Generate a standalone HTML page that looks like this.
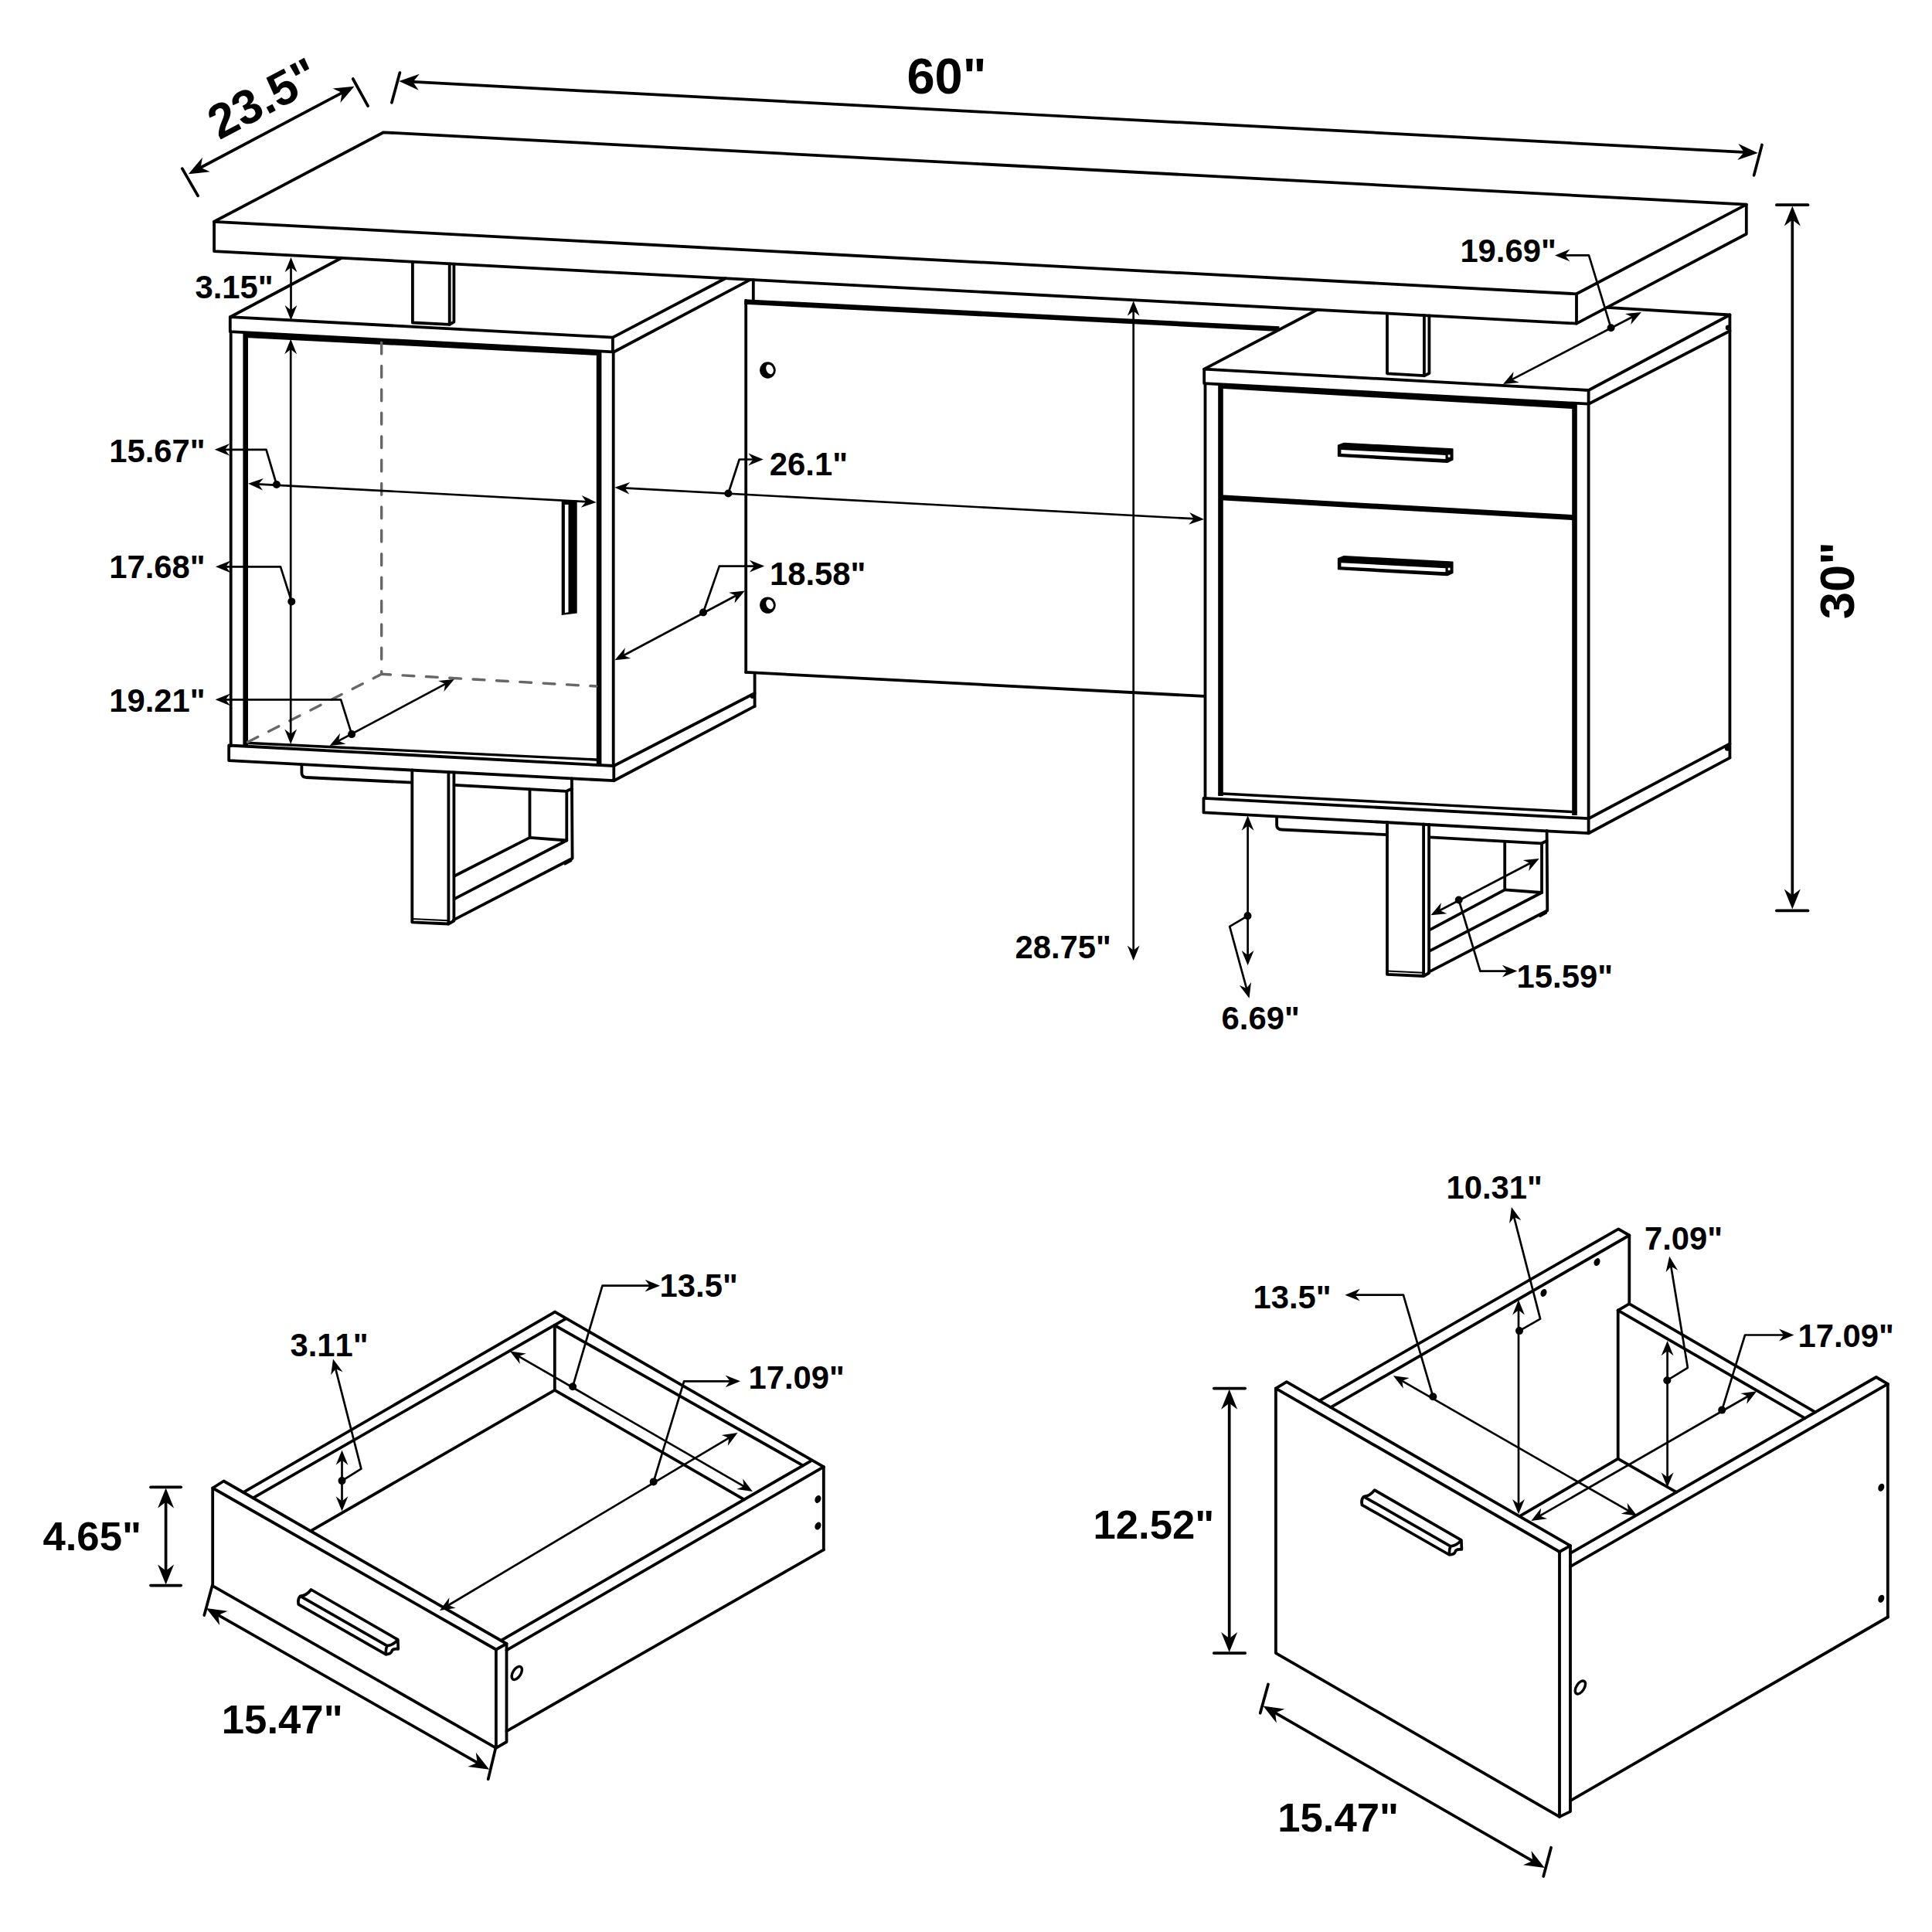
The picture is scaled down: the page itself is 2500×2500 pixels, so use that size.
<!DOCTYPE html>
<html lang="en">
<head>
<meta charset="utf-8">
<title>Desk dimensions</title>
<style>
html,body{margin:0;padding:0;background:#fff;}
body{width:2500px;height:2500px;overflow:hidden;}
svg{display:block;}
text{font-family:"Liberation Sans",sans-serif;font-weight:700;fill:#000;font-kerning:none;}
</style>
</head>
<body>
<svg width="2500" height="2500" viewBox="0 0 2500 2500" stroke-linecap="butt">
<rect x="0" y="0" width="2500" height="2500" fill="#fff"/>
<path d="M496.3,171.3 L2259.8,264.6 L2040,380.3 L277.1,286.8 Z" fill="none" stroke="#000" stroke-width="3.8" stroke-linejoin="round" stroke-linecap="round"/>
<path d="M277.1,286.8 L277.1,325.1 L2040,418.6 L2040,380.3" fill="none" stroke="#000" stroke-width="3.8" stroke-linejoin="round" stroke-linecap="round"/>
<path d="M2040,418.6 L2259.8,302.7 L2259.8,264.6" fill="none" stroke="#000" stroke-width="3.8" stroke-linejoin="round" stroke-linecap="round"/>
<path d="M533.9,338.7 L533.9,417.5 L581.7,419.8 L581.7,341.3" fill="none" stroke="#000" stroke-width="3.8" stroke-linejoin="round" stroke-linecap="round"/>
<path d="M581.7,419.8 L587.4,416.6 L587.4,341.6" fill="none" stroke="#000" stroke-width="3.8" stroke-linejoin="round" stroke-linecap="round"/>
<path d="M1795,405.6 L1795,483.3 L1842.9,486.2 L1842.9,408.1" fill="none" stroke="#000" stroke-width="3.8" stroke-linejoin="round" stroke-linecap="round"/>
<path d="M1842.9,486.2 L1849.4,483 L1849.4,408.5" fill="none" stroke="#000" stroke-width="3.8" stroke-linejoin="round" stroke-linecap="round"/>
<path d="M297.8,410.2 L792.9,436.6 L792.9,455.3 L297.8,429.1 Z" fill="none" stroke="#000" stroke-width="3.8" stroke-linejoin="round" stroke-linecap="round"/>
<line x1="297.8" y1="410.2" x2="442" y2="333.8" stroke="#000" stroke-width="3.8" stroke-linecap="round"/>
<line x1="792.9" y1="436.6" x2="938.6" y2="360.2" stroke="#000" stroke-width="3.8" stroke-linecap="round"/>
<line x1="794.6" y1="455.3" x2="970.9" y2="361.9" stroke="#000" stroke-width="3.8" stroke-linecap="round"/>
<line x1="974.8" y1="362.1" x2="974.8" y2="389.5" stroke="#000" stroke-width="3.8" stroke-linecap="round"/>
<line x1="298.7" y1="429.1" x2="298.7" y2="965" stroke="#000" stroke-width="3.8" stroke-linecap="round"/>
<line x1="793.7" y1="455.3" x2="793.7" y2="991" stroke="#000" stroke-width="3.8" stroke-linecap="round"/>
<path d="M296.2,964.5 L794.3,991 L794.3,1010.2 L296.2,984.2 Z" fill="none" stroke="#000" stroke-width="3.8" stroke-linejoin="round" stroke-linecap="round"/>
<line x1="794.3" y1="991" x2="976.6" y2="897" stroke="#000" stroke-width="3.8" stroke-linecap="round"/>
<line x1="794.3" y1="1010.2" x2="976.6" y2="913.9" stroke="#000" stroke-width="3.8" stroke-linecap="round"/>
<line x1="976.6" y1="871.5" x2="976.6" y2="913.9" stroke="#000" stroke-width="3.8" stroke-linecap="round"/>
<path d="M317.7,964 L317.7,433.6 L775.1,456.8 L775.1,990.5" fill="none" stroke="#000" stroke-width="6.6" stroke-linejoin="miter" stroke-linecap="butt"/>
<line x1="317.7" y1="961.3" x2="775.1" y2="983.2" stroke="#000" stroke-width="3.4" stroke-linecap="round"/>
<line x1="493.7" y1="443.1" x2="493.7" y2="872.3" stroke="#676767" stroke-width="3.4" stroke-dasharray="14.8 15.6" stroke-linecap="round"/>
<line x1="493.7" y1="872.3" x2="771.7" y2="888" stroke="#676767" stroke-width="3.4" stroke-dasharray="14.8 15.6" stroke-linecap="round" stroke-dashoffset="3"/>
<line x1="493.7" y1="872.3" x2="320" y2="960.5" stroke="#676767" stroke-width="3.4" stroke-dasharray="14.8 15.6" stroke-linecap="round" stroke-dashoffset="3"/>
<path d="M726.7,647.4 L746.7,647.4 L746.7,793.5 L726.7,796 Z" fill="#000"/>
<path d="M730.9,653.1 L735.5,653.1 L735.5,792.2 L730.9,792.9 Z" fill="#fff"/>
<line x1="965.2" y1="389" x2="965.2" y2="869.9" stroke="#000" stroke-width="3.8" stroke-linecap="round"/>
<line x1="963.4" y1="390.5" x2="1655.3" y2="425.6" stroke="#000" stroke-width="6.6" />
<line x1="965.2" y1="869.9" x2="1558" y2="900.9" stroke="#000" stroke-width="3.8" stroke-linecap="round"/>
<ellipse cx="993.4" cy="479" rx="10.4" ry="10.7" fill="#000"/>
<ellipse cx="996" cy="477.9" rx="4.5" ry="6.5" fill="#fff" transform="rotate(-22 996 477.9)"/>
<ellipse cx="993.4" cy="783.1" rx="10.4" ry="10.7" fill="#000"/>
<ellipse cx="996" cy="782" rx="4.5" ry="6.5" fill="#fff" transform="rotate(-22 996 782)"/>
<path d="M1558.2,477.6 L2055.6,505 L2055.6,522.7 L1558.2,496.2 Z" fill="none" stroke="#000" stroke-width="3.8" stroke-linejoin="round" stroke-linecap="round"/>
<line x1="1558.2" y1="477.6" x2="1704.5" y2="400.8" stroke="#000" stroke-width="3.8" stroke-linecap="round"/>
<line x1="2055.6" y1="505" x2="2238.4" y2="407.5" stroke="#000" stroke-width="3.8" stroke-linecap="round"/>
<line x1="2055.6" y1="522.7" x2="2238.4" y2="428.2" stroke="#000" stroke-width="3.8" stroke-linecap="round"/>
<line x1="2238.4" y1="407.5" x2="2238.4" y2="980.6" stroke="#000" stroke-width="3.8" stroke-linecap="round"/>
<line x1="2079.4" y1="397.8" x2="2238.4" y2="407.5" stroke="#000" stroke-width="3.8" stroke-linecap="round"/>
<line x1="1559.5" y1="496.2" x2="1559.5" y2="1032.8" stroke="#000" stroke-width="3.8" stroke-linecap="round"/>
<line x1="2055.6" y1="522.7" x2="2055.6" y2="1059.2" stroke="#000" stroke-width="3.8" stroke-linecap="round"/>
<path d="M1557.5,1032.8 L2055.6,1059.2 L2055.6,1078.2 L1557.5,1051.4 Z" fill="none" stroke="#000" stroke-width="3.8" stroke-linejoin="round" stroke-linecap="round"/>
<line x1="2055.6" y1="1059.2" x2="2238.4" y2="962.4" stroke="#000" stroke-width="3.8" stroke-linecap="round"/>
<line x1="2055.6" y1="1078.2" x2="2238.4" y2="980.6" stroke="#000" stroke-width="3.8" stroke-linecap="round"/>
<circle cx="2236.3" cy="424" r="3.6" fill="#000"/>
<circle cx="2235.2" cy="968.3" r="3.4" fill="#000"/>
<circle cx="973.7" cy="900.9" r="3" fill="#000"/>
<path d="M1579.5,1030 L1579.5,499.5 L2037.5,526 L2037.5,1055" fill="none" stroke="#000" stroke-width="6.6" stroke-linejoin="miter" stroke-linecap="butt"/>
<line x1="1579.5" y1="643.8" x2="2037.5" y2="669.8" stroke="#000" stroke-width="7" />
<line x1="1578" y1="1026.8" x2="2039" y2="1050.7" stroke="#000" stroke-width="3.4" stroke-linecap="round"/>
<polygon points="1731.6,576.3 1739.1,573.5 1879.8,581 1879.8,594.9 1872.8,598.2 1731.6,590.3" fill="#000" stroke="#000" stroke-width="1.5" stroke-linejoin="round"/>
<polygon points="1735.4,581.9 1870.5,588.9 1870.5,594 1735.4,587" fill="#fff"/>
<rect x="1873.7" y="588.4" width="2.8" height="3.3" fill="#fff"/>
<polygon points="1731.6,722.6 1739.1,719.8 1879.8,727.3 1879.8,741.2 1872.8,744.5 1731.6,736.6" fill="#000" stroke="#000" stroke-width="1.5" stroke-linejoin="round"/>
<polygon points="1735.4,728.2 1870.5,735.2 1870.5,740.3 1735.4,733.3" fill="#fff"/>
<rect x="1873.7" y="734.7" width="2.8" height="3.3" fill="#fff"/>
<path d="M533.3,996.5 L533.3,1193.3 L580.4,1195.5 L580.4,999" fill="none" stroke="#000" stroke-width="3.8" stroke-linejoin="round" stroke-linecap="round"/>
<line x1="533.3" y1="1189" x2="580.4" y2="1191.2" stroke="#000" stroke-width="2"/>
<path d="M580.4,1195.5 L587.4,1191.5 L587.4,999.3" fill="none" stroke="#000" stroke-width="3.8" stroke-linejoin="round" stroke-linecap="round"/>
<path d="M390.4,988.5 L390.4,1000 Q390.4,1005.6 396.5,1006 L533.3,1012.6" fill="none" stroke="#000" stroke-width="3.8"/>
<path d="M739.9,1007.5 L740.6,1110.7 L587,1190.4" fill="none" stroke="#000" stroke-width="3.8" stroke-linejoin="round" stroke-linecap="round"/>
<path d="M588.4,1015.8 L733.3,1023.8 L739.9,1020.5" fill="none" stroke="#000" stroke-width="3.8" stroke-linejoin="round" stroke-linecap="round"/>
<path d="M685.5,1021.4 L685.5,1083.9 L588.6,1133.2" fill="none" stroke="#000" stroke-width="3.8" stroke-linejoin="round" stroke-linecap="round"/>
<path d="M685.5,1083.9 L733.3,1087.5 L588.6,1162.9" fill="none" stroke="#000" stroke-width="3.8" stroke-linejoin="round" stroke-linecap="round"/>
<line x1="733.3" y1="1023.8" x2="733.3" y2="1087.5" stroke="#000" stroke-width="3.8" stroke-linecap="round"/>
<path d="M730.5,1115.5 L731,1118.5 L739.3,1114 L739.3,1111.5" fill="none" stroke="#000" stroke-width="2.2" stroke-linejoin="round" stroke-linecap="butt"/>
<path d="M1795,1064 L1795,1260.8 L1842.1,1263 L1842.1,1066.5" fill="none" stroke="#000" stroke-width="3.8" stroke-linejoin="round" stroke-linecap="round"/>
<line x1="1795" y1="1256.5" x2="1842.1" y2="1258.7" stroke="#000" stroke-width="2"/>
<path d="M1842.1,1263 L1849.1,1259 L1849.1,1066.8" fill="none" stroke="#000" stroke-width="3.8" stroke-linejoin="round" stroke-linecap="round"/>
<path d="M1652.1,1056 L1652.1,1067.5 Q1652.1,1073.1 1658.2,1073.5 L1795,1080.1" fill="none" stroke="#000" stroke-width="3.8"/>
<path d="M2001.6,1075 L2002.3,1178.2 L1848.7,1257.9" fill="none" stroke="#000" stroke-width="3.8" stroke-linejoin="round" stroke-linecap="round"/>
<path d="M1850.1,1083.3 L1995,1091.3 L2001.6,1088" fill="none" stroke="#000" stroke-width="3.8" stroke-linejoin="round" stroke-linecap="round"/>
<path d="M1947.2,1088.9 L1947.2,1151.4 L1850.3,1203.1" fill="none" stroke="#000" stroke-width="3.8" stroke-linejoin="round" stroke-linecap="round"/>
<path d="M1947.2,1151.4 L1995,1155 L1850.3,1230.4" fill="none" stroke="#000" stroke-width="3.8" stroke-linejoin="round" stroke-linecap="round"/>
<line x1="1995" y1="1091.3" x2="1995" y2="1155" stroke="#000" stroke-width="3.8" stroke-linecap="round"/>
<path d="M1992.2,1183 L1992.7,1186 L2001,1181.5 L2001,1179" fill="none" stroke="#000" stroke-width="2.2" stroke-linejoin="round" stroke-linecap="butt"/>
<polygon points="516.3,104.9 542.8,95.8 534.3,105.9 541.7,116.8" fill="#000"/>
<polygon points="2274.8,197.9 2248.3,207 2256.8,196.9 2249.4,186" fill="#000"/>
<line x1="530.7" y1="105.7" x2="2260.4" y2="197.1" stroke="#000" stroke-width="3.7" stroke-linecap="round"/>
<line x1="517.4" y1="94.1" x2="506.9" y2="132.8" stroke="#000" stroke-width="3.7" stroke-linecap="round"/>
<line x1="2280" y1="187.5" x2="2269.6" y2="226.9" stroke="#000" stroke-width="3.7" stroke-linecap="round"/>
<text x="1173.4" y="121.3" font-size="65" text-anchor="start">60"</text>
<polygon points="243.8,225.2 261.9,203.8 259.7,216.8 271.7,222.3" fill="#000"/>
<polygon points="458.5,111.7 440.4,133.1 442.6,120.1 430.6,114.6" fill="#000"/>
<line x1="256.5" y1="218.5" x2="445.8" y2="118.4" stroke="#000" stroke-width="3.7" stroke-linecap="round"/>
<line x1="235.8" y1="218.2" x2="256.1" y2="253.4" stroke="#000" stroke-width="3.7" stroke-linecap="round"/>
<line x1="456.7" y1="102" x2="476.1" y2="137.2" stroke="#000" stroke-width="3.7" stroke-linecap="round"/>
<text x="283.8" y="181.6" font-size="62.5" text-anchor="start" transform="rotate(-27.9 283.8 181.6)">23.5"</text>
<polygon points="2319.3,266.5 2329.8,292.5 2319.3,284.5 2308.8,292.5" fill="#000"/>
<polygon points="2319.3,1176.6 2308.8,1150.6 2319.3,1158.6 2329.8,1150.6" fill="#000"/>
<line x1="2319.3" y1="280.9" x2="2319.3" y2="1162.2" stroke="#000" stroke-width="3.7" stroke-linecap="round"/>
<line x1="2298.9" y1="265.2" x2="2339.5" y2="265.2" stroke="#000" stroke-width="3.7" stroke-linecap="round"/>
<line x1="2298.9" y1="1178.4" x2="2339.5" y2="1178.4" stroke="#000" stroke-width="3.7" stroke-linecap="round"/>
<text x="2399.4" y="801.3" font-size="63.3" text-anchor="start" transform="rotate(-90 2399.4 801.3)">30"</text>
<polygon points="376.5,332.9 384.4,352.3 376.5,346.1 368.6,352.3" fill="#000"/>
<polygon points="376.5,414.4 368.6,395 376.5,401.2 384.4,395" fill="#000"/>
<line x1="376.5" y1="343.5" x2="376.5" y2="403.8" stroke="#000" stroke-width="2.7"/>
<text x="252.5" y="385.7" font-size="41.8" text-anchor="start">3.15"</text>
<polygon points="376.2,438.8 384.1,458.2 376.2,452 368.3,458.2" fill="#000"/>
<polygon points="376.2,963 368.3,943.6 376.2,949.8 384.1,943.6" fill="#000"/>
<line x1="376.2" y1="449.4" x2="376.2" y2="952.4" stroke="#000" stroke-width="2.7"/>
<polygon points="279,733.3 298.4,725.4 292.2,733.3 298.4,741.2" fill="#000"/>
<path d="M377.3,778.4 L363,733.3 L289.6,733.3" fill="none" stroke="#000" stroke-width="2.7" stroke-linejoin="round" stroke-linecap="butt"/>
<circle cx="377.3" cy="778.4" r="5" fill="#000"/>
<text x="141.2" y="748" font-size="41.8" text-anchor="start">17.68"</text>
<polygon points="321.1,625.7 340.9,618.9 334.3,626.4 340,634.6" fill="#000"/>
<polygon points="771.6,649.9 751.8,656.7 758.4,649.2 752.7,641" fill="#000"/>
<line x1="331.6" y1="626.3" x2="761.1" y2="649.3" stroke="#000" stroke-width="2.7"/>
<polygon points="277.8,581.8 297.2,573.9 291,581.8 297.2,589.7" fill="#000"/>
<path d="M357.9,627 L344.5,581.8 L288.4,581.8" fill="none" stroke="#000" stroke-width="2.7" stroke-linejoin="round" stroke-linecap="butt"/>
<circle cx="357.9" cy="627" r="5" fill="#000"/>
<text x="141.2" y="598" font-size="41.8" text-anchor="start">15.67"</text>
<polygon points="426.6,964.9 440,948.8 438.2,958.7 447.4,962.7" fill="#000"/>
<polygon points="587.8,878.9 574.4,895 576.2,885.1 567,881.1" fill="#000"/>
<line x1="435.9" y1="959.9" x2="578.5" y2="883.9" stroke="#000" stroke-width="2.7"/>
<polygon points="278.6,905.3 298,897.4 291.8,905.3 298,913.2" fill="#000"/>
<path d="M455.1,950.1 L441.1,905.3 L289.2,905.3" fill="none" stroke="#000" stroke-width="2.7" stroke-linejoin="round" stroke-linecap="butt"/>
<circle cx="455.1" cy="950.1" r="5" fill="#000"/>
<text x="141.2" y="921" font-size="41.8" text-anchor="start">19.21"</text>
<polygon points="795.4,630.7 815.2,623.9 808.6,631.4 814.3,639.6" fill="#000"/>
<polygon points="1558,672 1538.2,678.8 1544.8,671.3 1539.1,663.1" fill="#000"/>
<line x1="805.9" y1="631.3" x2="1547.5" y2="671.4" stroke="#000" stroke-width="2.7"/>
<polygon points="987.7,594.5 968.3,602.4 974.5,594.5 968.3,586.6" fill="#000"/>
<path d="M942.4,638.5 L956.7,594.5 L977.1,594.5" fill="none" stroke="#000" stroke-width="2.7" stroke-linejoin="round" stroke-linecap="butt"/>
<circle cx="942.4" cy="638.5" r="5" fill="#000"/>
<text x="995.8" y="614.7" font-size="41.8" text-anchor="start">26.1"</text>
<polygon points="795.5,854.3 808.9,838.2 807.1,848.1 816.3,852.1" fill="#000"/>
<polygon points="963.9,764.5 950.5,780.6 952.3,770.7 943.1,766.7" fill="#000"/>
<line x1="804.8" y1="849.3" x2="954.6" y2="769.5" stroke="#000" stroke-width="2.7"/>
<polygon points="989.3,732.6 969.9,740.5 976.1,732.6 969.9,724.7" fill="#000"/>
<path d="M910,792.5 L930.8,732.6 L978.7,732.6" fill="none" stroke="#000" stroke-width="2.7" stroke-linejoin="round" stroke-linecap="butt"/>
<circle cx="910" cy="792.5" r="5" fill="#000"/>
<text x="995.9" y="756.5" font-size="41.8" text-anchor="start">18.58"</text>
<polygon points="1466.7,389.3 1474.6,408.7 1466.7,402.5 1458.8,408.7" fill="#000"/>
<polygon points="1466.7,1243 1458.8,1223.6 1466.7,1229.8 1474.6,1223.6" fill="#000"/>
<line x1="1466.7" y1="399.9" x2="1466.7" y2="1232.4" stroke="#000" stroke-width="2.7"/>
<text x="1313.5" y="1240.2" font-size="41.8" text-anchor="start">28.75"</text>
<polygon points="1945,497 1958.6,481 1956.7,490.9 1965.9,495.1" fill="#000"/>
<polygon points="2123.9,404.1 2110.3,420.1 2112.2,410.2 2103,406" fill="#000"/>
<line x1="1954.4" y1="492.1" x2="2114.5" y2="409" stroke="#000" stroke-width="2.7"/>
<polygon points="2012,330.4 2031.4,322.5 2025.2,330.4 2031.4,338.3" fill="#000"/>
<path d="M2084.6,424.3 L2056,330.4 L2022.6,330.4" fill="none" stroke="#000" stroke-width="2.7" stroke-linejoin="round" stroke-linecap="butt"/>
<circle cx="2084.6" cy="424.3" r="5" fill="#000"/>
<text x="2013.8" y="338.8" font-size="41.8" text-anchor="end">19.69"</text>
<polygon points="1614.6,1055.3 1622.5,1074.7 1614.6,1068.5 1606.7,1074.7" fill="#000"/>
<polygon points="1614.6,1249.3 1606.7,1229.9 1614.6,1236.1 1622.5,1229.9" fill="#000"/>
<line x1="1614.6" y1="1065.9" x2="1614.6" y2="1238.7" stroke="#000" stroke-width="2.7"/>
<polygon points="1616.5,1291.7 1603.8,1275.1 1613,1279 1619,1270.9" fill="#000"/>
<path d="M1614.5,1185.1 L1591.2,1198.8 L1613.7,1281.5" fill="none" stroke="#000" stroke-width="2.7" stroke-linejoin="round" stroke-linecap="butt"/>
<circle cx="1614.5" cy="1185.1" r="5" fill="#000"/>
<text x="1580.6" y="1332.4" font-size="41.8" text-anchor="start">6.69"</text>
<polygon points="1851.4,1184.2 1864.9,1168.2 1863.1,1178.1 1872.3,1182.2" fill="#000"/>
<polygon points="1991.7,1110.9 1978.2,1126.9 1980,1117 1970.8,1112.9" fill="#000"/>
<line x1="1860.8" y1="1179.3" x2="1982.3" y2="1115.8" stroke="#000" stroke-width="2.7"/>
<polygon points="1963.3,1256.6 1943.9,1264.5 1950.1,1256.6 1943.9,1248.7" fill="#000"/>
<path d="M1887.7,1164.5 L1915.4,1256.6 L1952.7,1256.6" fill="none" stroke="#000" stroke-width="2.7" stroke-linejoin="round" stroke-linecap="butt"/>
<circle cx="1887.7" cy="1164.5" r="5" fill="#000"/>
<text x="1962.6" y="1277.8" font-size="41.8" text-anchor="start">15.59"</text>
<path d="M275.2,1925.5 L641.9,2134.5 L641.9,2261.8 L275.2,2052.2 Z" fill="none" stroke="#000" stroke-width="3.8" stroke-linejoin="round" stroke-linecap="round"/>
<path d="M275.2,1925.5 L289.5,1916.5 L655.5,2127 L641.9,2134.5" fill="none" stroke="#000" stroke-width="3.8" stroke-linejoin="round" stroke-linecap="round"/>
<path d="M655.5,2127 L655.5,2254 L641.9,2261.8" fill="none" stroke="#000" stroke-width="3.8" stroke-linejoin="round" stroke-linecap="round"/>
<line x1="314.8" y1="1931.1" x2="718.1" y2="1697.7" stroke="#000" stroke-width="3.8" stroke-linecap="round"/>
<line x1="327.4" y1="1938.3" x2="731.8" y2="1706.6" stroke="#000" stroke-width="3.8" stroke-linecap="round"/>
<line x1="401.9" y1="1981.1" x2="717.8" y2="1798.8" stroke="#000" stroke-width="3.8" stroke-linecap="round"/>
<line x1="718.1" y1="1697.7" x2="1065.8" y2="1898.2" stroke="#000" stroke-width="3.8" stroke-linecap="round"/>
<line x1="717.8" y1="1715" x2="1039" y2="1896.4" stroke="#000" stroke-width="3.8" stroke-linecap="round"/>
<line x1="717.8" y1="1715" x2="717.8" y2="1798.8" stroke="#000" stroke-width="3.8" stroke-linecap="round"/>
<line x1="717.8" y1="1798.8" x2="962.9" y2="1940.4" stroke="#000" stroke-width="3.8" stroke-linecap="round"/>
<line x1="1048.6" y1="1890.8" x2="648.2" y2="2122.8" stroke="#000" stroke-width="3.8" stroke-linecap="round"/>
<line x1="1065.8" y1="1898.2" x2="655.5" y2="2135.4" stroke="#000" stroke-width="3.8" stroke-linecap="round"/>
<line x1="1065.8" y1="1898.2" x2="1065.8" y2="2005.4" stroke="#000" stroke-width="3.8" stroke-linecap="round"/>
<line x1="1065.8" y1="2005.4" x2="655.5" y2="2240.1" stroke="#000" stroke-width="3.8" stroke-linecap="round"/>
<ellipse cx="668.8" cy="2164.9" rx="5.1" ry="9.5" fill="none" stroke="#000" stroke-width="3.4" transform="rotate(32 668.8 2164.9)"/>
<ellipse cx="1058.4" cy="1939.9" rx="3.8" ry="5.2" fill="#000" transform="rotate(24 1058.4 1939.9)"/>
<ellipse cx="1058.4" cy="1974.6" rx="3.8" ry="5.2" fill="#000" transform="rotate(24 1058.4 1974.6)"/>
<path d="M402.6,2057 L514.8,2121.7 L515.3,2133.8 Q507.9,2132.8 506.9,2136.8 Q505.9,2140.3 499.5,2140.8 L386.3,2076.1 Q384.9,2068.8 388.6,2065.4 Q396.4,2065 402.6,2057 Z" fill="none" stroke="#000" stroke-width="3.7" stroke-linejoin="round"/>
<path d="M388.6,2065.4 L500.9,2129.6 Q509.4,2128.8 514.8,2121.7 M500.9,2129.6 Q498.7,2134.8 499.5,2140.8" fill="none" stroke="#000" stroke-width="3.7" stroke-linejoin="round"/>
<polygon points="214.6,1925.5 225.1,1951.5 214.6,1943.5 204.1,1951.5" fill="#000"/>
<polygon points="214.6,2050.5 204.1,2024.5 214.6,2032.5 225.1,2024.5" fill="#000"/>
<line x1="214.6" y1="1939.9" x2="214.6" y2="2036.1" stroke="#000" stroke-width="3.7" stroke-linecap="round"/>
<line x1="195" y1="1924.3" x2="234.2" y2="1924.3" stroke="#000" stroke-width="3.7" stroke-linecap="round"/>
<line x1="195" y1="2051.6" x2="234.2" y2="2051.6" stroke="#000" stroke-width="3.7" stroke-linecap="round"/>
<text x="55.4" y="2006.3" font-size="52.7" text-anchor="start">4.65"</text>
<polygon points="266.8,2081.1 294.6,2084.8 282.4,2090 284.2,2103.1" fill="#000"/>
<polygon points="633.2,2289.8 605.4,2286.1 617.6,2280.9 615.8,2267.8" fill="#000"/>
<line x1="279.3" y1="2088.2" x2="620.7" y2="2282.7" stroke="#000" stroke-width="3.7" stroke-linecap="round"/>
<line x1="274.5" y1="2052.2" x2="264.3" y2="2090.1" stroke="#000" stroke-width="3.7" stroke-linecap="round"/>
<line x1="641" y1="2263.4" x2="631.7" y2="2302.2" stroke="#000" stroke-width="3.7" stroke-linecap="round"/>
<text x="286.8" y="2242.9" font-size="52.7" text-anchor="start">15.47"</text>
<polygon points="442.5,1876.4 450.4,1895.8 442.5,1889.6 434.6,1895.8" fill="#000"/>
<polygon points="442.5,1955.6 434.6,1936.2 442.5,1942.4 450.4,1936.2" fill="#000"/>
<line x1="442.5" y1="1887" x2="442.5" y2="1945" stroke="#000" stroke-width="2.7"/>
<polygon points="431,1758.4 443.5,1775.2 434.3,1771.2 428.2,1779.2" fill="#000"/>
<path d="M442.5,1916.1 L467.4,1900.6 L433.6,1768.6" fill="none" stroke="#000" stroke-width="2.7" stroke-linejoin="round" stroke-linecap="butt"/>
<circle cx="442.5" cy="1916.1" r="5" fill="#000"/>
<text x="375.5" y="1755.3" font-size="41.8" text-anchor="start">3.11"</text>
<polygon points="660,1748.5 680.8,1751.4 671.4,1755.1 672.8,1765" fill="#000"/>
<polygon points="974,1929.9 953.2,1927 962.6,1923.3 961.2,1913.4" fill="#000"/>
<line x1="669.1" y1="1753.8" x2="964.9" y2="1924.6" stroke="#000" stroke-width="2.7"/>
<polygon points="854,1663.7 834.6,1671.6 840.8,1663.7 834.6,1655.8" fill="#000"/>
<path d="M741.1,1794.2 L779.5,1663.7 L843.4,1663.7" fill="none" stroke="#000" stroke-width="2.7" stroke-linejoin="round" stroke-linecap="butt"/>
<circle cx="741.1" cy="1794.2" r="5" fill="#000"/>
<text x="853.6" y="1677.6" font-size="41.8" text-anchor="start">13.5"</text>
<polygon points="568.9,2083.9 581.5,2067.2 580.2,2077.1 589.6,2080.8" fill="#000"/>
<polygon points="954.5,1854 941.9,1870.7 943.2,1860.8 933.8,1857.1" fill="#000"/>
<line x1="578" y1="2078.5" x2="945.4" y2="1859.4" stroke="#000" stroke-width="2.7"/>
<polygon points="958,1787.3 938.6,1795.2 944.8,1787.3 938.6,1779.4" fill="#000"/>
<path d="M845.7,1917.4 L885.1,1787.3 L947.4,1787.3" fill="none" stroke="#000" stroke-width="2.7" stroke-linejoin="round" stroke-linecap="butt"/>
<circle cx="845.7" cy="1917.4" r="5" fill="#000"/>
<text x="968.5" y="1797.2" font-size="41.8" text-anchor="start">17.09"</text>
<path d="M1650.9,1796.6 L2018,2008 L2018,2350.9 L1650.9,2139.1 Z" fill="none" stroke="#000" stroke-width="3.8" stroke-linejoin="round" stroke-linecap="round"/>
<path d="M1650.9,1796.6 L1664.9,1788.2 L2032,2000.1 L2018,2008" fill="none" stroke="#000" stroke-width="3.8" stroke-linejoin="round" stroke-linecap="round"/>
<path d="M2032,2000.1 L2032,2344.1 L2018,2350.9" fill="none" stroke="#000" stroke-width="3.8" stroke-linejoin="round" stroke-linecap="round"/>
<path d="M1707.2,1812.6 L2094.2,1590.3 L2108.3,1598.5 L1721.9,1821.1" fill="none" stroke="#000" stroke-width="3.8" stroke-linejoin="round" stroke-linecap="round"/>
<line x1="2108.3" y1="1598.5" x2="2108.3" y2="1687.2" stroke="#000" stroke-width="3.8" stroke-linecap="round"/>
<line x1="2093.7" y1="1695.6" x2="2108.3" y2="1687.2" stroke="#000" stroke-width="3.8" stroke-linecap="round"/>
<line x1="2093.7" y1="1695.6" x2="2093.7" y2="1887.6" stroke="#000" stroke-width="3.8" stroke-linecap="round"/>
<line x1="2093.7" y1="1695.6" x2="2335.5" y2="1835.2" stroke="#000" stroke-width="3.8" stroke-linecap="round"/>
<line x1="2108.3" y1="1687.2" x2="2349.1" y2="1827.3" stroke="#000" stroke-width="3.8" stroke-linecap="round"/>
<line x1="2093.7" y1="1887.6" x2="2169.3" y2="1930.9" stroke="#000" stroke-width="3.8" stroke-linecap="round"/>
<line x1="2093.7" y1="1887.6" x2="1966.2" y2="1962.1" stroke="#000" stroke-width="3.8" stroke-linecap="round"/>
<path d="M2032,2009.9 L2427.8,1782 L2442.8,1790.8 L2032,2027.1" fill="none" stroke="#000" stroke-width="3.8" stroke-linejoin="round" stroke-linecap="round"/>
<line x1="2442.8" y1="1790.8" x2="2442.8" y2="2092.5" stroke="#000" stroke-width="3.8" stroke-linecap="round"/>
<line x1="2442.8" y1="2092.5" x2="2032" y2="2330.1" stroke="#000" stroke-width="3.8" stroke-linecap="round"/>
<ellipse cx="2044.9" cy="2183.5" rx="5.1" ry="9.5" fill="none" stroke="#000" stroke-width="3.4" transform="rotate(32 2044.9 2183.5)"/>
<ellipse cx="2066.5" cy="1633.1" rx="3.8" ry="5.2" fill="#000" transform="rotate(24 2066.5 1633.1)"/>
<ellipse cx="1997.5" cy="1672.9" rx="3.8" ry="5.2" fill="#000" transform="rotate(24 1997.5 1672.9)"/>
<ellipse cx="2434.3" cy="1924.8" rx="3.8" ry="5.2" fill="#000" transform="rotate(24 2434.3 1924.8)"/>
<ellipse cx="2434.3" cy="2068.7" rx="3.8" ry="5.2" fill="#000" transform="rotate(24 2434.3 2068.7)"/>
<path d="M1778.7,1928.2 L1890.9,1992.9 L1891.4,2005 Q1884,2004 1883,2008 Q1882,2011.5 1875.6,2012 L1762.4,1947.3 Q1761,1940 1764.7,1936.6 Q1772.5,1936.2 1778.7,1928.2 Z" fill="none" stroke="#000" stroke-width="3.7" stroke-linejoin="round"/>
<path d="M1764.7,1936.6 L1877,2000.8 Q1885.5,2000 1890.9,1992.9 M1877,2000.8 Q1874.8,2006 1875.6,2012" fill="none" stroke="#000" stroke-width="3.7" stroke-linejoin="round"/>
<polygon points="1590.7,1797.8 1601.2,1823.8 1590.7,1815.8 1580.2,1823.8" fill="#000"/>
<polygon points="1590.7,2138 1580.2,2112 1590.7,2120 1601.2,2112" fill="#000"/>
<line x1="1590.7" y1="1812.2" x2="1590.7" y2="2123.6" stroke="#000" stroke-width="3.7" stroke-linecap="round"/>
<line x1="1570.8" y1="1796.6" x2="1611.2" y2="1796.6" stroke="#000" stroke-width="3.7" stroke-linecap="round"/>
<line x1="1570.8" y1="2139.1" x2="1611.2" y2="2139.1" stroke="#000" stroke-width="3.7" stroke-linecap="round"/>
<text x="1414.4" y="1991.4" font-size="52.7" text-anchor="start">12.52"</text>
<polygon points="1634.5,2207.5 1662.3,2211.4 1650.1,2216.5 1651.8,2229.6" fill="#000"/>
<polygon points="1998.8,2417.1 1971,2413.2 1983.2,2408.1 1981.5,2395" fill="#000"/>
<line x1="1647" y1="2214.7" x2="1986.3" y2="2409.9" stroke="#000" stroke-width="3.7" stroke-linecap="round"/>
<line x1="1641" y1="2179.5" x2="1630.7" y2="2216.8" stroke="#000" stroke-width="3.7" stroke-linecap="round"/>
<line x1="2007.1" y1="2390.7" x2="1997.2" y2="2428" stroke="#000" stroke-width="3.7" stroke-linecap="round"/>
<text x="1653.2" y="2369.7" font-size="52.7" text-anchor="start">15.47"</text>
<polygon points="1802.9,1780.3 1823.7,1783.1 1814.3,1786.9 1815.8,1796.8" fill="#000"/>
<polygon points="2118.5,1961.5 2097.7,1958.7 2107.1,1954.9 2105.6,1945" fill="#000"/>
<line x1="1812.1" y1="1785.6" x2="2109.3" y2="1956.2" stroke="#000" stroke-width="2.7"/>
<polygon points="1740.4,1675.7 1759.8,1667.8 1753.6,1675.7 1759.8,1683.6" fill="#000"/>
<path d="M1854.3,1807.2 L1815.9,1675.7 L1751,1675.7" fill="none" stroke="#000" stroke-width="2.7" stroke-linejoin="round" stroke-linecap="butt"/>
<circle cx="1854.3" cy="1807.2" r="5" fill="#000"/>
<text x="1621.5" y="1692.5" font-size="41.8" text-anchor="start">13.5"</text>
<polygon points="1965,1682 1972.9,1701.4 1965,1695.2 1957.1,1701.4" fill="#000"/>
<polygon points="1965,1959.3 1957.1,1939.9 1965,1946.1 1972.9,1939.9" fill="#000"/>
<line x1="1965" y1="1692.6" x2="1965" y2="1948.7" stroke="#000" stroke-width="2.7"/>
<polygon points="1955.9,1562.1 1968.4,1578.9 1959.2,1574.9 1953.1,1582.9" fill="#000"/>
<path d="M1966,1722.1 L1993.1,1706.7 L1958.5,1572.3" fill="none" stroke="#000" stroke-width="2.7" stroke-linejoin="round" stroke-linecap="butt"/>
<circle cx="1966" cy="1722.1" r="5" fill="#000"/>
<text x="1871.5" y="1551.2" font-size="41.8" text-anchor="start">10.31"</text>
<polygon points="2157.6,1734.9 2165.5,1754.3 2157.6,1748.1 2149.7,1754.3" fill="#000"/>
<polygon points="2157.6,1924.8 2149.7,1905.4 2157.6,1911.6 2165.5,1905.4" fill="#000"/>
<line x1="2157.6" y1="1745.5" x2="2157.6" y2="1914.2" stroke="#000" stroke-width="2.7"/>
<polygon points="2160.2,1625.8 2171.1,1643.7 2162.3,1638.8 2155.6,1646.2" fill="#000"/>
<path d="M2157.3,1786.2 L2183.9,1769.9 L2161.9,1636.2" fill="none" stroke="#000" stroke-width="2.7" stroke-linejoin="round" stroke-linecap="butt"/>
<circle cx="2157.3" cy="1786.2" r="5" fill="#000"/>
<text x="2128" y="1617" font-size="41.8" text-anchor="start">7.09"</text>
<polygon points="1981.3,1968 1994.2,1951.5 1992.7,1961.4 2002.1,1965.2" fill="#000"/>
<polygon points="2273.2,1800.2 2260.3,1816.7 2261.8,1806.8 2252.4,1803" fill="#000"/>
<line x1="1990.5" y1="1962.7" x2="2264" y2="1805.5" stroke="#000" stroke-width="2.7"/>
<polygon points="2321.4,1727.5 2302,1735.4 2308.2,1727.5 2302,1719.6" fill="#000"/>
<path d="M2228.2,1824.6 L2258,1727.5 L2310.8,1727.5" fill="none" stroke="#000" stroke-width="2.7" stroke-linejoin="round" stroke-linecap="butt"/>
<circle cx="2228.2" cy="1824.6" r="5" fill="#000"/>
<text x="2326.5" y="1743.1" font-size="41.8" text-anchor="start">17.09"</text>
</svg>
</body>
</html>
